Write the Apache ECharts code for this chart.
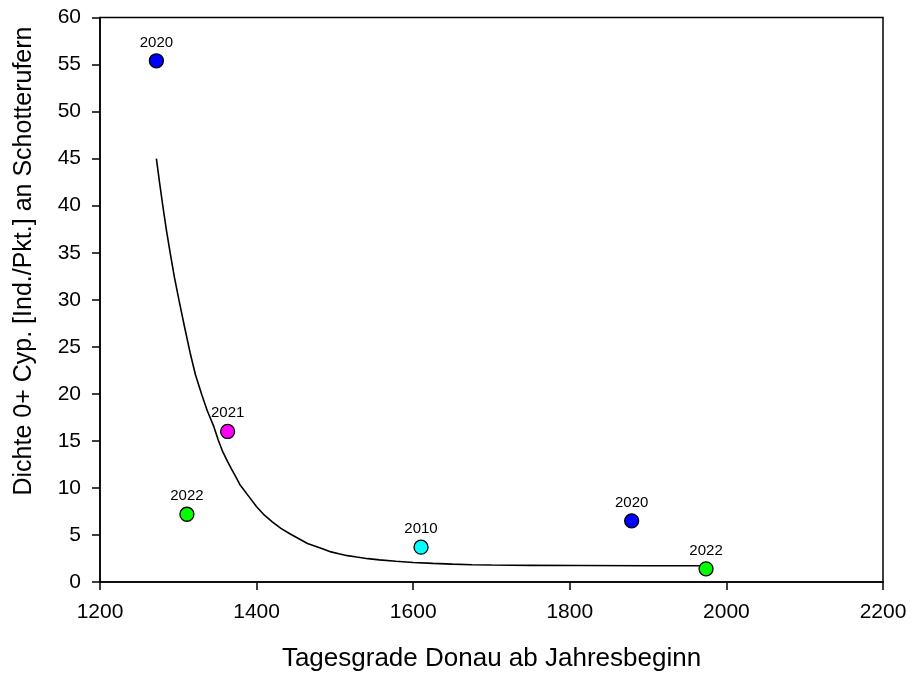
<!DOCTYPE html>
<html>
<head>
<meta charset="utf-8">
<script src="https://cdn.jsdelivr.net/npm/echarts@6/dist/echarts.min.js"></script>
<style>
  html, body { margin: 0; padding: 0; background: #fff; }
  #chart { width: 911px; height: 677px; }
</style>
</head>
<body>
<div id="chart"></div>
<script>
// Observed densities per survey year
const degreeDays = [1272, 1363, 1311, 1610, 1879, 1974];
const densities = [55.4, 16.0, 7.2, 3.7, 6.5, 1.4];
const years = ['2020', '2021', '2022', '2010', '2020', '2022'];
const pointColors = ['#0000ff', '#ff00ff', '#00ff00', '#00ffff', '#0000ff', '#00ff00'];

// Fitted decay curve
const curveX = [1272, 1276, 1280, 1285, 1290, 1295, 1301, 1308, 1315, 1322, 1330, 1337, 1345, 1351, 1357, 1363, 1368, 1374, 1379, 1390, 1400, 1410, 1420, 1431, 1443, 1454, 1465, 1475, 1485, 1495, 1505, 1516, 1528, 1542, 1557, 1578, 1600, 1625, 1650, 1675, 1700, 1750, 1813, 1900, 1970];
const curveY = [45.0, 42.5, 40.1, 37.3, 34.8, 32.4, 29.9, 27.1, 24.4, 22.0, 19.9, 18.2, 16.6, 15.1, 13.8, 12.8, 12.0, 11.1, 10.3, 9.1, 8.0, 7.1, 6.4, 5.7, 5.1, 4.6, 4.1, 3.8, 3.5, 3.2, 3.0, 2.8, 2.65, 2.48, 2.35, 2.2, 2.08, 1.98, 1.9, 1.84, 1.8, 1.77, 1.75, 1.73, 1.72];

const xTitle = 'Tagesgrade Donau ab Jahresbeginn';
const yTitle = 'Dichte 0+ Cyp. [Ind./Pkt.] an Schotterufern';

const font = 'Liberation Sans, Arial, sans-serif';

const chart = echarts.init(document.getElementById('chart'), null, { renderer: 'canvas' });

const axisCommon = {
  axisLine: { show: true, onZero: false, lineStyle: { color: '#000', width: 1.5 } },
  axisTick: { show: true, inside: false, length: 8, lineStyle: { color: '#000', width: 1.5 } },
  splitLine: { show: false }
};

chart.setOption({
  animation: false,
  backgroundColor: '#ffffff',
  grid: {
    left: 100, right: 28, top: 17.5, bottom: 94.5,
    show: true, borderColor: '#000', borderWidth: 1.5, backgroundColor: 'transparent'
  },
  xAxis: Object.assign({
    type: 'value',
    min: 1200, max: 2200, interval: 200,
    name: xTitle,
    nameLocation: 'middle',
    nameGap: 64,
    nameTextStyle: { fontFamily: font, fontSize: 26, color: '#000' },
    axisLabel: { fontFamily: font, fontSize: 21, color: '#000', margin: 20, formatter: v => String(v) }
  }, axisCommon),
  yAxis: Object.assign({
    type: 'value',
    min: 0, max: 60, interval: 5,
    axisLabel: { fontFamily: font, fontSize: 21, color: '#000', margin: 19 }
  }, axisCommon),
  graphic: [{
    type: 'text',
    x: 24, y: 261,
    rotation: Math.PI / 2,
    style: {
      text: yTitle,
      font: '25px ' + font,
      fill: '#000',
      textAlign: 'center',
      textVerticalAlign: 'middle'
    }
  }],
  series: [
    {
      type: 'line',
      data: curveX.map((x, i) => [x, curveY[i]]),
      showSymbol: false,
      smooth: false,
      lineStyle: { color: '#000', width: 1.6 },
      z: 2
    },
    {
      type: 'scatter',
      symbol: 'circle',
      symbolSize: 14,
      data: degreeDays.map((x, i) => ({
        value: [x, densities[i]],
        itemStyle: { color: pointColors[i] },
        label: { formatter: years[i] }
      })),
      itemStyle: { borderColor: '#000', borderWidth: 1.3, opacity: 1 },
      label: {
        show: true, position: 'top', distance: 3,
        fontFamily: font, fontSize: 15, color: '#000'
      },
      emphasis: { disabled: true },
      z: 3
    }
  ]
});
</script>
</body>
</html>
